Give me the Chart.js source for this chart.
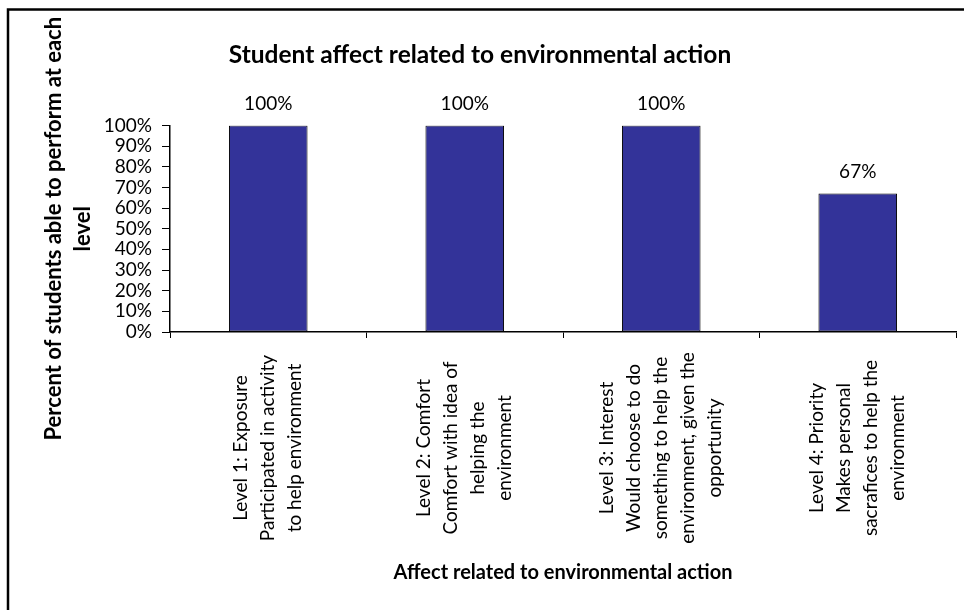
<!DOCTYPE html>
<html>
<head>
<meta charset="utf-8">
<title>Student affect related to environmental action</title>
<script src="https://cdn.jsdelivr.net/npm/chart.js@4"></script>
<style>
  html, body { margin: 0; padding: 0; background: #fff; }
  canvas { display: block; }
</style>
</head>
<body>
<canvas id="affectChart" width="964" height="610"></canvas>
<script>
// chart data
const levels = [
  ["Level 1: Exposure", "Participated in activity", "to help environment"],
  ["Level 2: Comfort", "Comfort with idea of", "helping the", "environment"],
  ["Level 3: Interest", "Would choose to do", "something to help the", "environment, given the", "opportunity"],
  ["Level 4: Priority", "Makes personal", "sacrafices to help the", "environment"],
];
const percentAble = [100, 100, 100, 67];
const yTicks = [0, 10, 20, 30, 40, 50, 60, 70, 80, 90, 100];

const FONT = "Lato, 'Open Sans', sans-serif";

// frame round the chart (only top + left edge are in the crop)
const framePlugin = {
  id: "frame",
  beforeDraw(chart) {
    const ctx = chart.ctx;
    ctx.save();
    ctx.fillStyle = "#fff";
    ctx.fillRect(0, 0, chart.width, chart.height);
    ctx.strokeStyle = "#000";
    ctx.lineWidth = 2.5;
    ctx.strokeRect(8, 9.5, chart.width + 20, chart.height + 20);
    ctx.restore();
  },
};

// value labels above bars
const valueLabels = {
  id: "valueLabels",
  afterDatasetsDraw(chart) {
    const ctx = chart.ctx;
    const meta = chart.getDatasetMeta(0);
    ctx.save();
    ctx.font = "19px " + FONT;
    ctx.fillStyle = "#000";
    ctx.textAlign = "center";
    ctx.textBaseline = "middle";
    meta.data.forEach((bar, i) => {
      ctx.fillText(percentAble[i] + "%", bar.x, bar.y - 22);
    });
    ctx.restore();
  },
};

// rotated, centred category labels under the x axis
const categoryLabels = {
  id: "categoryLabels",
  afterDraw(chart) {
    const ctx = chart.ctx;
    const xScale = chart.scales.x;
    const lineH = 27;
    ctx.save();
    ctx.font = "19px " + FONT;
    ctx.fillStyle = "#000";
    ctx.textAlign = "center";
    ctx.textBaseline = "middle";
    levels.forEach((lines, i) => {
      const cx = xScale.getPixelForValue(i);
      const first = cx - ((lines.length - 1) * lineH) / 2;
      lines.forEach((line, j) => {
        ctx.save();
        ctx.translate(first + j * lineH, 448);
        ctx.rotate(-Math.PI / 2);
        ctx.fillText(line, 0, 0);
        ctx.restore();
      });
    });
    ctx.restore();
  },
};

new Chart(document.getElementById("affectChart"), {
  type: "bar",
  data: {
    labels: levels.map((l) => l.join(" ")),
    datasets: [
      {
        data: percentAble,
        backgroundColor: "#333399",
        borderColor: "#000",
        borderWidth: 1,
        borderSkipped: false,
        barPercentage: 0.4,
        categoryPercentage: 1,
      },
    ],
  },
  options: {
    responsive: false,
    animation: false,
    layout: { padding: { left: 4, right: 8, top: 0, bottom: 0 } },
    plugins: {
      legend: { display: false },
      tooltip: { enabled: false },
      title: {
        display: true,
        text: "Student affect related to environmental action",
        color: "#000",
        font: { family: FONT, size: 24.5, weight: "bold", lineHeight: 1.2 },
        padding: { top: 40, bottom: 56 },
      },
    },
    scales: {
      x: {
        grid: {
          drawOnChartArea: false,
          drawTicks: true,
          tickLength: 6,
          color: "#000",
        },
        border: { display: true, color: "#000", width: 1.5 },
        ticks: { display: false },
        title: {
          display: true,
          text: "Affect related to environmental action",
          color: "#000",
          font: { family: FONT, size: 20, weight: "bold", lineHeight: 1.2 },
          padding: { top: 223, bottom: 25 },
        },
      },
      y: {
        min: 0,
        max: 100,
        afterBuildTicks(scale) {
          scale.ticks = yTicks.map((v) => ({ value: v }));
        },
        afterFit(scale) {
          scale.width = 166;
        },
        grid: {
          drawOnChartArea: false,
          drawTicks: true,
          tickLength: 8,
          color: "#000",
        },
        border: { display: true, color: "#000", width: 1.5 },
        ticks: {
          color: "#000",
          padding: 10,
          autoSkip: false,
          font: { family: FONT, size: 19 },
          callback: (v) => v + "%",
        },
        title: {
          display: true,
          text: ["Percent of students able to perform at each", "level"],
          color: "#000",
          font: { family: FONT, size: 22, weight: "bold", lineHeight: 1.3 },
          padding: { top: 36, bottom: 0 },
        },
      },
    },
  },
  plugins: [framePlugin, valueLabels, categoryLabels],
});
</script>
</body>
</html>
